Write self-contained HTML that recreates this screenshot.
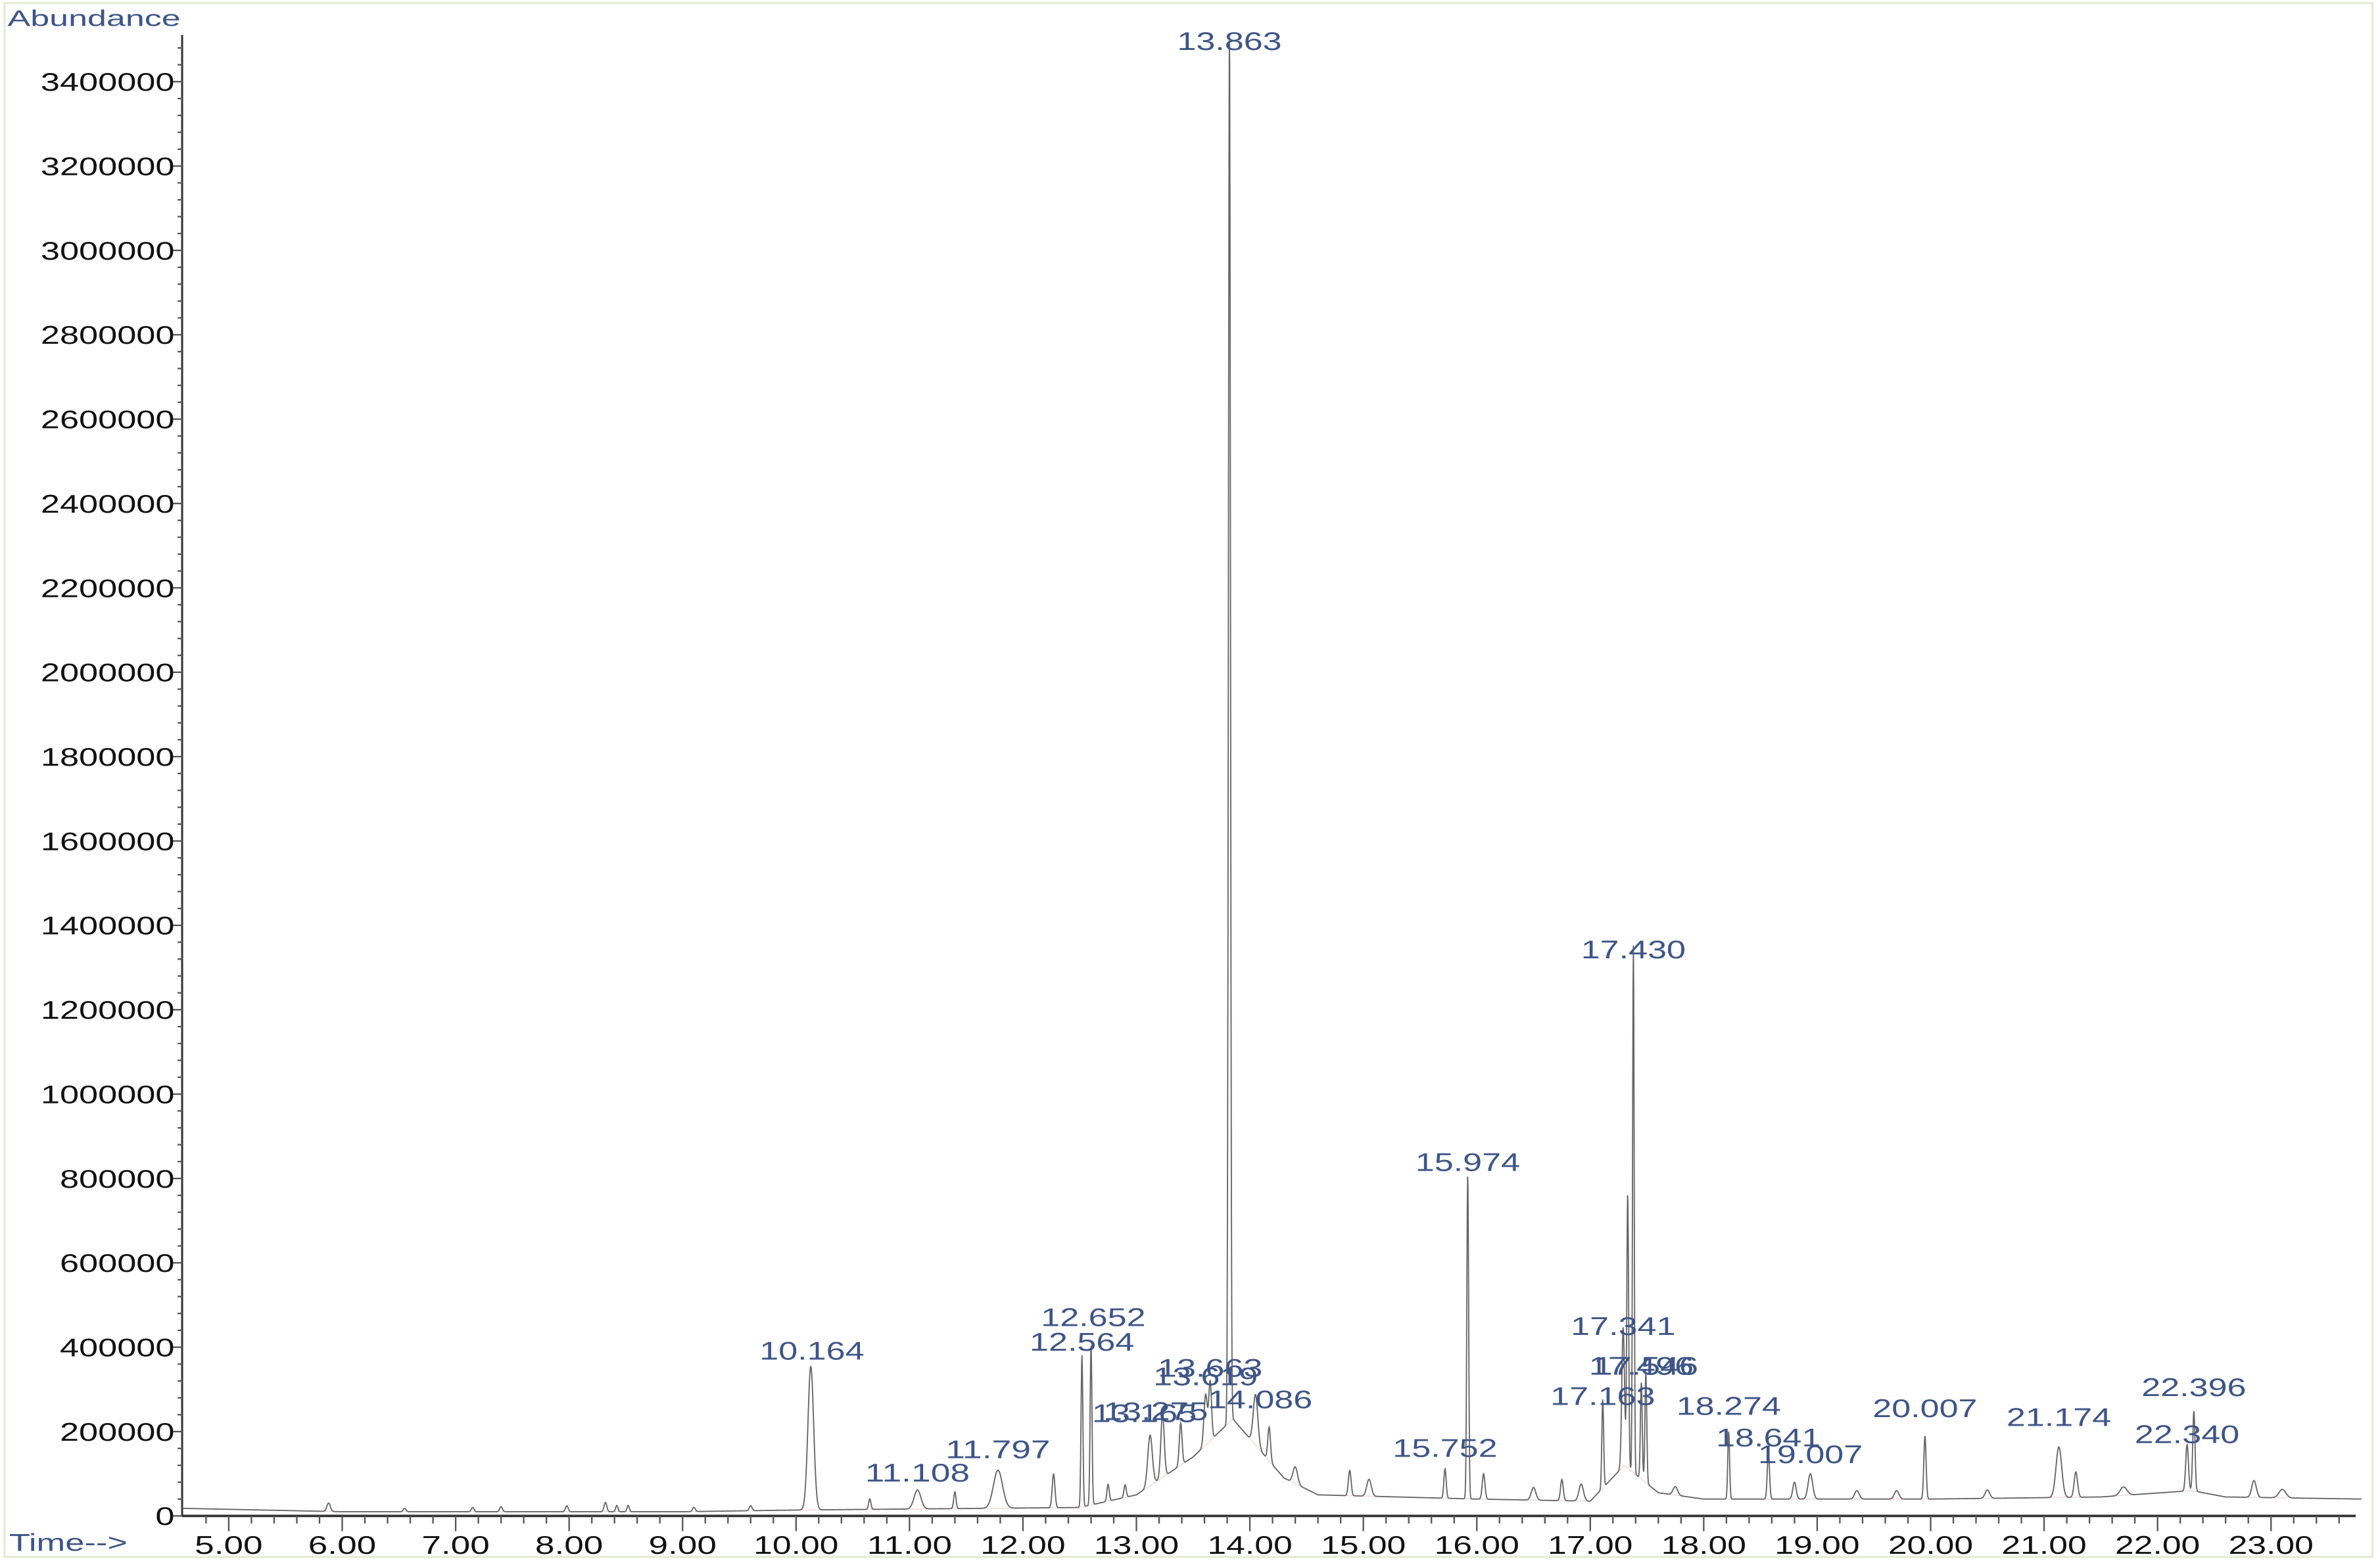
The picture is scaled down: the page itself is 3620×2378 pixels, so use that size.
<!DOCTYPE html>
<html><head><meta charset="utf-8"><style>
html,body{margin:0;padding:0;background:#fff;}
svg{display:block;}
text{font-family:"Liberation Sans",sans-serif;}
</style></head><body>
<svg id="chart" width="3620" height="2378" viewBox="0 0 1568 1030" xmlns="http://www.w3.org/2000/svg">
<rect x="3" y="2" width="1560" height="1024" fill="#fff" stroke="#e6ecd8" stroke-width="1.5"/>
<g id="axes"></g>
<g id="trace"></g>
<g id="labels"></g>
<text x="5" y="17" font-size="15" fill="#3d5588" textLength="114" lengthAdjust="spacingAndGlyphs">Abundance</text>
<text x="6" y="1022" font-size="16" fill="#3d5588" textLength="78" lengthAdjust="spacingAndGlyphs">Time--&gt;</text>
</svg>
<script>
// ---- data ----
const peakTimes  = [5.88,6.55,7.15,7.4,7.98,8.32,8.42,8.52,9.1,9.6,10.13,10.65,11.07,11.40,11.78,12.27,12.52,12.60,12.75,12.90,13.12,13.23,13.39,13.61,13.65,13.82,14.05,14.17,14.40,14.88,15.05,15.72,15.92,16.06,16.50,16.75,16.92,17.11,17.29,17.33,17.38,17.45,17.49,17.75,18.22,18.57,18.80,18.94,19.35,19.70,19.95,20.50,21.13,21.28,21.70,22.26,22.32,22.85,23.10];
const peakHeights= [20000,8000,10000,12000,14000,22000,15000,15000,10000,12000,340000,25000,45000,40000,90000,80000,360000,380000,40000,30000,120000,150000,100000,120000,140000,3300000,120000,80000,40000,60000,40000,70000,770000,60000,30000,50000,40000,210000,330000,650000,1250000,230000,260000,20000,160000,110000,40000,60000,20000,20000,150000,20000,120000,60000,20000,110000,190000,40000,20000];
const peakWidths = [0.015,0.012,0.012,0.012,0.012,0.012,0.01,0.01,0.012,0.012,0.025,0.01,0.03,0.01,0.04,0.012,0.008,0.008,0.01,0.01,0.02,0.015,0.012,0.015,0.012,0.009,0.02,0.012,0.02,0.012,0.02,0.01,0.008,0.012,0.02,0.012,0.02,0.008,0.012,0.008,0.007,0.008,0.008,0.02,0.008,0.01,0.015,0.02,0.02,0.02,0.01,0.02,0.025,0.015,0.03,0.012,0.01,0.02,0.03];
const baseTimes  = [4.6,6.0,9.0,10.0,12.5,13.0,13.5,13.85,14.3,14.6,16.0,17.0,17.3,17.6,18.0,20.0,21.5,22.3,22.6,23.8];
const baseValues = [18000,10000,10000,14000,20000,50000,140000,230000,90000,50000,40000,35000,120000,55000,40000,40000,45000,60000,45000,40000];
const labelText  = ["13.863","17.430","15.974","17.341","12.652","12.564","10.164","13.663","13.619","17.496","17.546","14.086","13.165","13.275","17.163","18.274","11.797","15.752","20.007","21.174","22.396","22.340","18.641","19.007","11.108"];
const labelTime  = [13.82,17.38,15.92,17.29,12.62,12.52,10.14,13.65,13.61,17.45,17.49,14.09,13.07,13.17,17.11,18.22,11.78,15.72,19.95,21.13,22.32,22.26,18.57,18.94,11.07];
const labelLevel = [3475000,1322000,818000,429000,450000,392000,371000,330000,310000,335000,335000,255000,223000,227000,263000,240000,137000,140000,234000,213000,284000,173000,165000,125000,82000];
const yTickValues = [0,200000,400000,600000,800000,1000000,1200000,1400000,1600000,1800000,2000000,2200000,2400000,2600000,2800000,3000000,3200000,3400000];
const xTickLabels = ["5.00","6.00","7.00","8.00","9.00","10.00","11.00","12.00","13.00","14.00","15.00","16.00","17.00","18.00","19.00","20.00","21.00","22.00","23.00"];

// ---- scales ----
const X0=150.7, PX_PER_MIN=74.75, Y0=999, PX_PER_UNIT=55.6/200000;
const xs=t=>X0+(t-5)*PX_PER_MIN;
const ys=v=>Y0-v*PX_PER_UNIT;
const NS="http://www.w3.org/2000/svg";
function mk(tag,attrs,parent){const e=document.createElementNS(NS,tag);for(const k in attrs)e.setAttribute(k,attrs[k]);parent.appendChild(e);return e;}
const axes=document.getElementById('axes'), trace=document.getElementById('trace'), labels=document.getElementById('labels');

let yl=mk('line',{x1:120,y1:23,x2:120,y2:999,stroke:'#333','stroke-width':1.3},axes);


let xl=mk('line',{x1:120,y1:999,x2:1552,y2:999,stroke:'#333','stroke-width':1.6},axes);



for(let v=0; v<=3480000; v+=40000){
  const major=(v%200000===0);
  const t=mk('line',{x1:major?114:117,y1:ys(v),x2:120,y2:ys(v),stroke:'#555','stroke-width':1},axes);
  
  
}
yTickValues.forEach(v=>{
  const s=String(v);
  const t=mk('text',{x:115,y:ys(v)+6,'font-size':17,'text-anchor':'end',fill:'#111',textLength:s.length*12.6,lengthAdjust:'spacingAndGlyphs'},axes);
  t.textContent=s;
  
  
});
for(let i=-1;i<=94;i++){
  const tm=5+i*0.2; const major=(i%5===0);
  const x=xs(tm); if(x<121||x>1552) continue;
  const t=mk('line',{x1:x,y1:999,x2:x,y2:major?1009:1004,stroke:'#555','stroke-width':1},axes);
  
  
}
xTickLabels.forEach(s=>{
  const t=mk('text',{x:xs(parseFloat(s)),y:1024,'font-size':17,'text-anchor':'middle',fill:'#111',textLength:s.length*11.2,lengthAdjust:'spacingAndGlyphs'},axes);
  t.textContent=s;
  
  
});

function baseAt(t){
  for(let i=0;i<baseTimes.length-1;i++){
    if(t>=baseTimes[i]&&t<=baseTimes[i+1]){const f=(t-baseTimes[i])/(baseTimes[i+1]-baseTimes[i]);return baseValues[i]+f*(baseValues[i+1]-baseValues[i]);}
  }
  return baseValues[baseValues.length-1];
}
let db='';
for(let t=4.6;t<=23.8;t+=0.05){db+=(db?'L':'M')+xs(t).toFixed(2)+' '+ys(baseAt(t)).toFixed(2);}
const bl=mk('path',{d:db,fill:'none',stroke:'#e8b0b0','stroke-width':0.6,opacity:0.5},trace);


let d='';
for(let t=4.6;t<=23.8;t+=0.003){
  let v=baseAt(t);
  for(let i=0;i<peakTimes.length;i++){const z=(t-peakTimes[i])/peakWidths[i];if(Math.abs(z)<6)v+=peakHeights[i]*Math.exp(-0.5*z*z);}
  d+=(d?'L':'M')+xs(t).toFixed(2)+' '+ys(v).toFixed(2);
}
const p=mk('path',{d:d,fill:'none',stroke:'#666','stroke-width':0.8},trace);



labelText.forEach((s,i)=>{
  const t=mk('text',{x:xs(labelTime[i]),y:ys(labelLevel[i]),'font-size':17,'text-anchor':'middle',fill:'#3d5588',textLength:s.length*11.5,lengthAdjust:'spacingAndGlyphs'},labels);
  t.textContent=s;
  
  
});
</script>
</body></html>
